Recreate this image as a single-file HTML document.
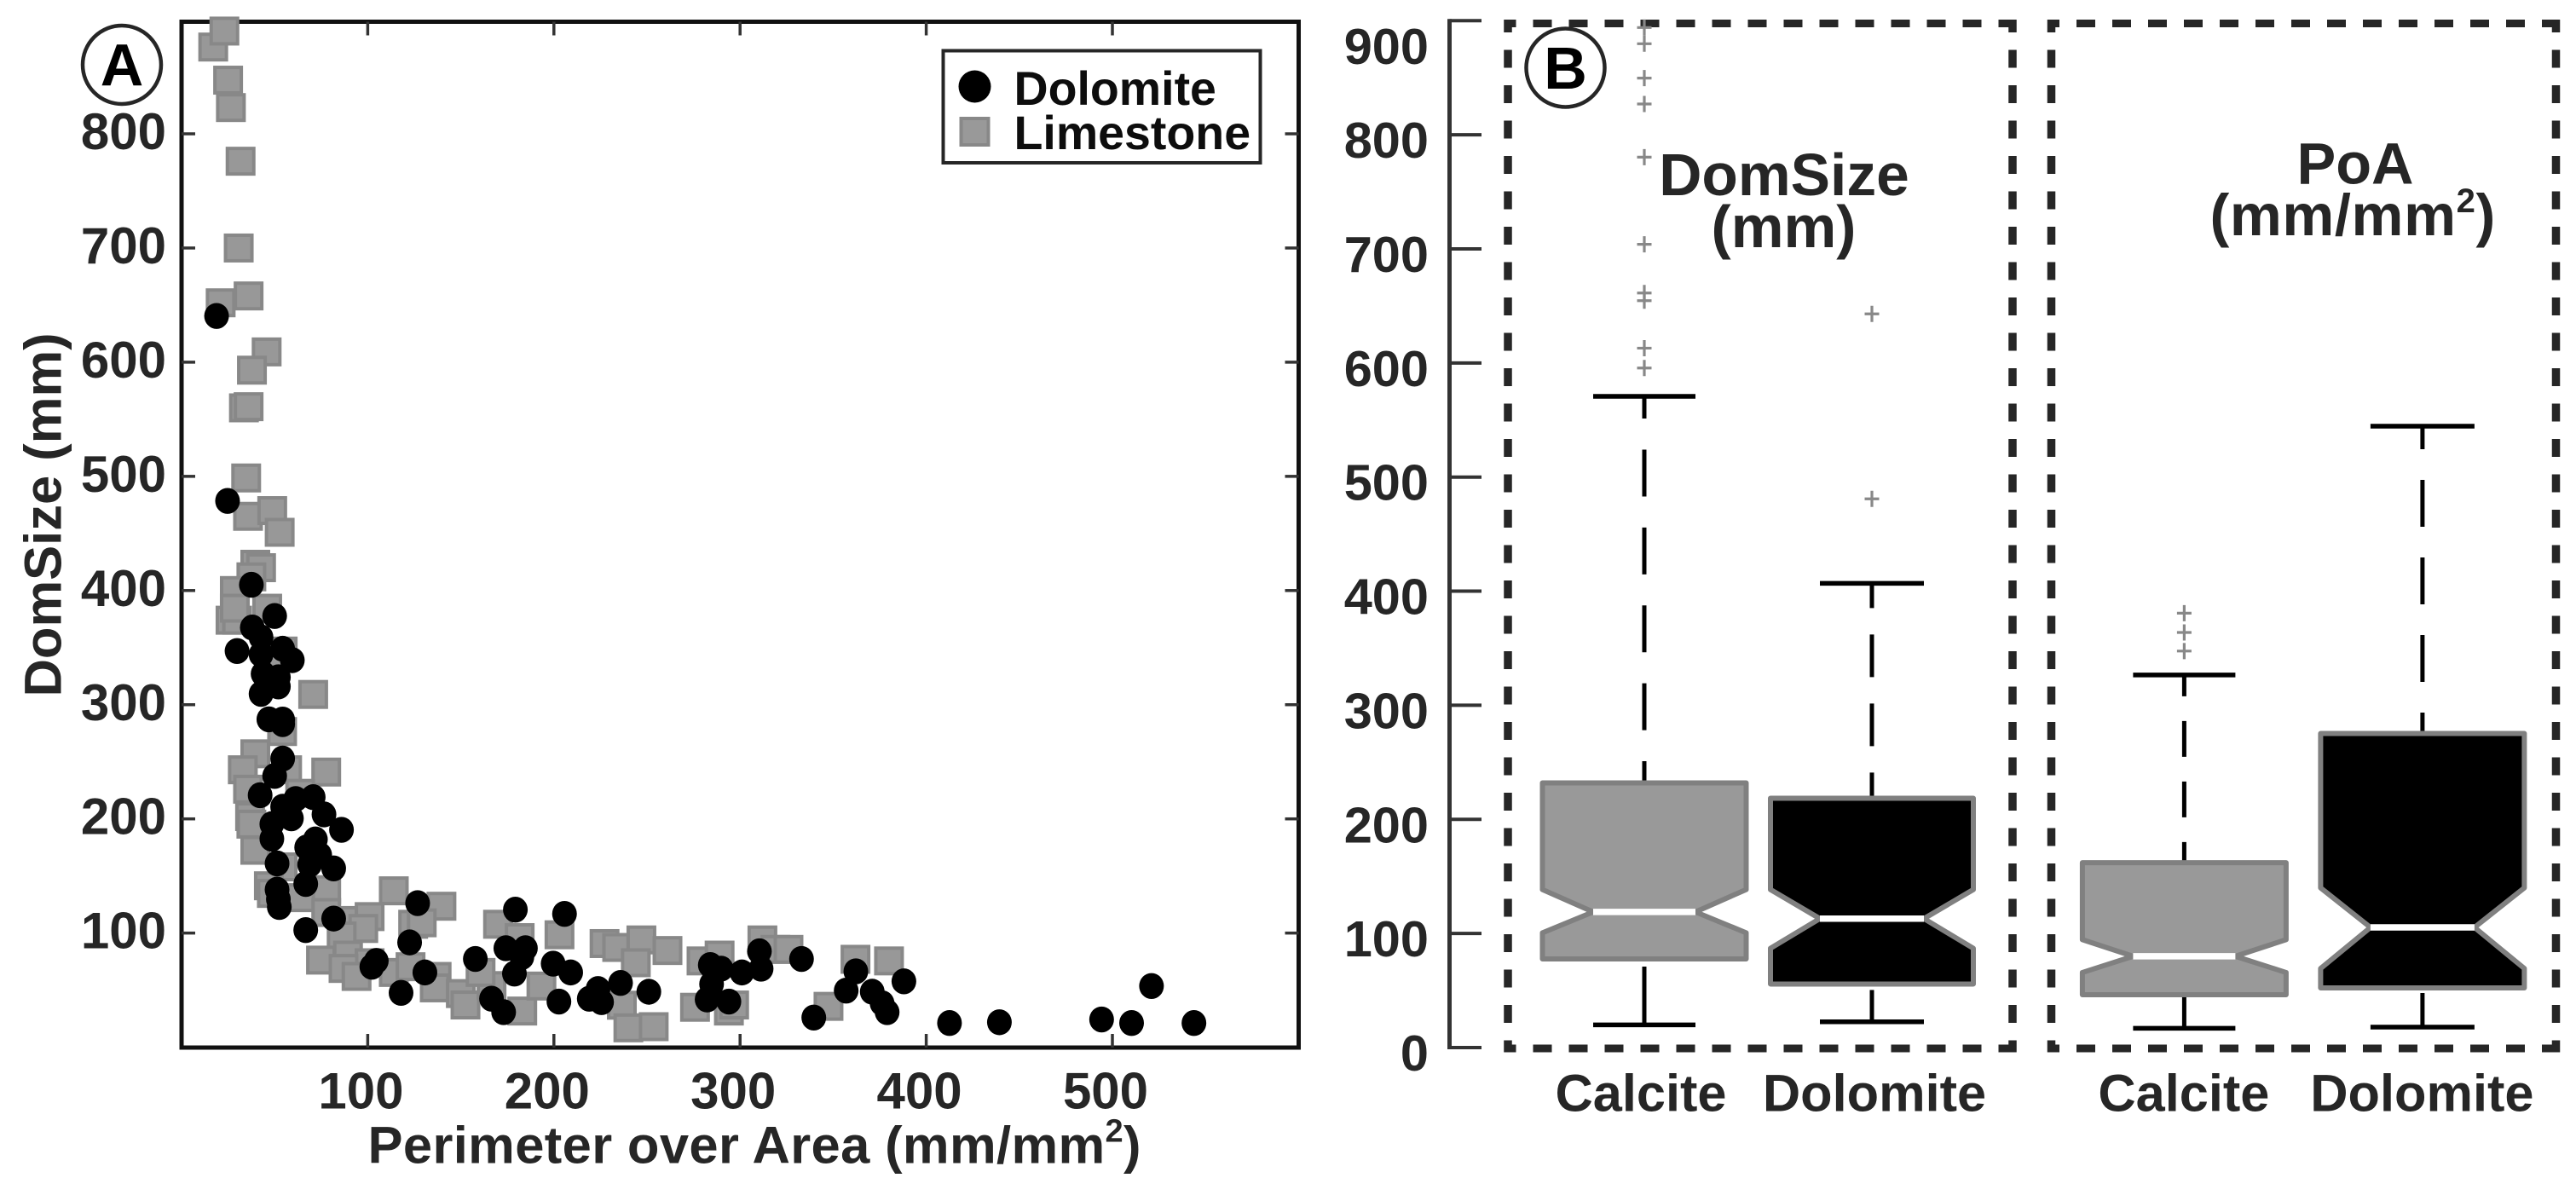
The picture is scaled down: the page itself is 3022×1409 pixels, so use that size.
<!DOCTYPE html>
<html lang="en">
<head>
<meta charset="utf-8">
<title>DomSize and Perimeter over Area charts</title>
<style>
html,body{margin:0;padding:0;background:#fff;width:3022px;height:1409px;overflow:hidden}
svg{display:block}
text{font-family:"Liberation Sans",Arial,sans-serif;font-weight:bold;fill:#262626}
</style>
</head>
<body>
<svg id="figure" xmlns="http://www.w3.org/2000/svg" width="3022" height="1409" viewBox="0 0 3022 1409">
  <rect x="0" y="0" width="3022" height="1409" fill="#fff"/>
  <g id="panelA"></g>
  <g id="panelB"></g>

  <g>
    <ellipse cx="143" cy="76" rx="46" ry="46" fill="none" stroke="#262626" stroke-width="4.5"/>
    <text x="143" y="100.5" font-size="70" text-anchor="middle" style="fill:#000">A</text>
  </g>
  <text transform="translate(71.5 817.5) rotate(-90)" font-size="61.5">DomSize (mm)</text>
  <text x="431.5" y="1364.5" font-size="61.5" letter-spacing="0.36">Perimeter over Area (mm/mm<tspan font-size="38" dy="-25">2</tspan><tspan dy="25">)</tspan></text>

  <g>
    <rect x="1106.5" y="59.5" width="372" height="131.5" fill="#fff" stroke="#262626" stroke-width="4"/>
    <circle cx="1143.5" cy="101.5" r="19" fill="#000"/>
    <text x="1189.5" y="122.8" font-size="55.5" style="fill:#0d0d0d">Dolomite</text>
    <rect x="1127.5" y="139" width="32" height="31" fill="#999" stroke="#888" stroke-width="4"/>
    <text x="1189.5" y="175" font-size="55.5" style="fill:#0d0d0d">Limestone</text>
  </g>

  <g>
    <ellipse cx="1836.5" cy="79.5" rx="46" ry="46" fill="none" stroke="#262626" stroke-width="4.5"/>
    <text x="1836.5" y="104" font-size="70" text-anchor="middle" style="fill:#000">B</text>
  </g>
  <text x="2093" y="229" font-size="69.5" text-anchor="middle">DomSize</text>
  <text x="2092.5" y="290" font-size="69.5" text-anchor="middle">(mm)</text>
  <text x="2763" y="215.5" font-size="68.5" text-anchor="middle">PoA</text>
  <text x="2592.5" y="276" font-size="68.5" letter-spacing="0.6">(mm/mm<tspan font-size="40" dy="-27">2</tspan><tspan dy="27">)</tspan></text>
</svg>
<script>
// ---- Panel A data ----
const dolomiteX = [18.8,24.7,37.5,50,38,42.7,29.8,42.7,54.3,59.5,43.8,52,42.7,52,46.9,54.3,54.3,54.3,50,42.2,61.3,70.7,54.3,59,76.5,48.5,48.5,85.9,71.9,67.2,74.2,68.8,81.7,51.3,66.7,51.3,52,52.5,81.7,66.7,104.6,102.2,126.8,122.5,130.7,117.9,157.8,174.2,184.7,182.8,179.3,178.8,166.5,173,205.7,199.6,209,202.7,219,223.7,225.6,235.8,251,284,289.8,284.7,282.3,294,301,310.4,311.3,333,362.2,357,371,376.3,379,339.6,388,412.5,439.3,494.2,510.3,521,543.8];
const dolomiteY = [640.5,478.5,405,377.7,367.6,359,347,344,349,339,327,324,309.5,316,287.2,287,283,252.8,237.6,220.7,217.4,219,210.6,200.5,203.9,195.4,182.6,190.4,182,175,168.4,160,156.6,161,143,138,129.6,122.8,112.7,102.6,75.6,70.5,126.2,91.8,65.5,47.6,77.3,86.7,86.7,79,120.5,64.5,42.5,30.7,116.8,73.2,65.5,40,42.5,51,39.5,56.3,48.6,72,68.8,55.3,41.8,40,65.5,84,68.8,77.3,66.5,49.6,48.6,38.5,30.7,26,57.7,21.2,21.9,24.3,21.2,53.6,21.2];
const limestoneX = [17,23,25,26.5,31.7,30.7,21,36,45.7,37.8,33.5,36,34.7,35.7,48.7,52.7,39.6,42.7,37.5,28.6,26.3,29.8,46,28.6,54.3,49.7,70.7,54,39.6,32.9,56.7,77.7,35.7,63.7,36.8,37.5,39.6,54.3,46.9,48.5,77.7,63.7,114,139.6,77.7,87,101,97.6,124.4,129,86,74.9,89.4,101,114,87,94,123,137,136,150,152.5,166.5,160.6,170,181.6,203,183,193.3,227.2,234,247,261,244,236.5,240,253.6,275.8,279.3,289,294,296.8,312,319,326,362,380,347.5];
const limestoneY = [876,890,847,823,776,700,652,658,609,593,560,561,498.6,465,470,451,423,420,412,400,374,374,384.5,384.5,347,337,309,276.5,257,243,243,241,226,222.4,202,195.4,172.5,158,141.4,134.7,138,131,137,123.5,118,111,114.4,104,107.7,109,97.5,76.3,80.7,74,65.5,69,62,70.5,62,52,47,37,54,65.5,107.7,96,98.5,31.7,53.6,90.8,87.4,94,84.7,74,36.8,17,18,35,75.6,80.7,31.7,37,94,85.7,85.7,77,75.6,35.8];
const scatterXTicks = [100,200,300,400,500];
const scatterYTicks = [100,200,300,400,500,600,700,800];

// ---- Panel B data ----
const boxAxisTicks = [0,100,200,300,400,500,600,700,800,900];
const boxCategories = ["Calcite","Dolomite"];
const domSizeQ1 = [77.7,55.7];
const domSizeQ3 = [232,218.5];
const domSizeMedian = [118.9,113];
const domSizeNotchLow = [100.6,87];
const domSizeNotchHigh = [138.5,138.5];
const domSizeWhiskerLow = [19.9,22.6];
const domSizeWhiskerHigh = [570.7,406.9];
const domSizeOutliers = [[894,879.8,849.7,827,780.4,704,661.3,654.6,613,595.6],[643,480.9]];
const poaQ1 = [46.3,52.3];
const poaQ3 = [162,275.3];
const poaMedian = [80,105.3];
const poaNotchLow = [65.8,69.3];
const poaNotchHigh = [94.6,140];
const poaWhiskerLow = [16.9,17.9];
const poaWhiskerHigh = [326.6,544.6];
const poaOutliers = [[380.7,363.8,347.5],[]];

const NS = 'http://www.w3.org/2000/svg';
function make(parent, tag, attrs, text) {
  const node = document.createElementNS(NS, tag);
  for (const key in attrs) node.setAttribute(key, attrs[key]);
  if (text !== undefined) node.textContent = text;
  parent.appendChild(node);
  return node;
}

// ---- Panel A axes ----
const scatterX = v => 213 + 2.184 * v;
const scatterY = v => 1228.6 - 1.3395 * v;
const panelA = document.getElementById('panelA');
const frameLeft = 213, frameRight = 1523.5, frameTop = 25.5, frameBottom = 1229;

const frame = make(panelA, 'rect', {x: frameLeft, y: frameTop, width: frameRight - frameLeft, height: frameBottom - frameTop, fill: 'none', stroke: '#111', 'stroke-width': 5});



scatterXTicks.forEach(v => {
  const bottomTick = make(panelA, 'line', {x1: scatterX(v), x2: scatterX(v), y1: frameBottom, y2: frameBottom - 16, stroke: '#333', 'stroke-width': 3.5});
  
  
  const topTick = make(panelA, 'line', {x1: scatterX(v), x2: scatterX(v), y1: frameTop, y2: frameTop + 16, stroke: '#333', 'stroke-width': 3.5});
  
  
  const label = make(panelA, 'text', {x: scatterX(v) - 8, y: 1300.5, 'font-size': 60, 'text-anchor': 'middle'}, String(v));
  
  
});
scatterYTicks.forEach(v => {
  const leftTick = make(panelA, 'line', {x1: frameLeft, x2: frameLeft + 16, y1: scatterY(v), y2: scatterY(v), stroke: '#333', 'stroke-width': 3.5});
  
  
  const rightTick = make(panelA, 'line', {x1: frameRight, x2: frameRight - 16, y1: scatterY(v), y2: scatterY(v), stroke: '#333', 'stroke-width': 3.5});
  
  
  const label = make(panelA, 'text', {x: 195, y: scatterY(v) + 18, 'font-size': 60, 'text-anchor': 'end'}, String(v));
  
  
});

// ---- Panel A points ----
limestoneX.forEach((v, i) => {
  const markW = 31, markH = 30;
  const pt = make(panelA, 'rect', {x: scatterX(v) - markW / 2, y: scatterY(limestoneY[i]) - markH / 2, width: markW, height: markH, fill: '#989898', stroke: '#888', 'stroke-width': 4});
  
  
});
dolomiteX.forEach((v, i) => {
  const pt = make(panelA, 'ellipse', {cx: scatterX(v), cy: scatterY(dolomiteY[i]), rx: 14.5, ry: 15.2, fill: '#000'});
  
  
});

// ---- Panel B axis ----
const boxY = v => 1229 - 1.3386 * v;
const panelB = document.getElementById('panelB');
const axisLine = make(panelB, 'line', {x1: 1700.5, x2: 1700.5, y1: boxY(900) - 2, y2: boxY(0) + 2, stroke: '#333', 'stroke-width': 5});


boxAxisTicks.forEach(v => {
  const tick = make(panelB, 'line', {x1: 1700.5, x2: 1738, y1: boxY(v), y2: boxY(v), stroke: '#333', 'stroke-width': 4});
  
  
  const label = make(panelB, 'text', {x: 1676, y: Math.max(75, boxY(v) + 27), 'font-size': 59.5, 'text-anchor': 'end'}, String(v));
  
  
});

// ---- Dashed panel frames ----
function dashedFrame(left, right, top, bottom, name) {
  const half = 4.5;
  [top, bottom].forEach(y => {
    const edge = make(panelB, 'line', {x1: left - half, x2: right + half, y1: y, y2: y, stroke: '#262626', 'stroke-width': 9, 'stroke-dasharray': '22 20', 'stroke-dashoffset': 8});
    
    
  });
  [left, right].forEach(x => {
    const edge = make(panelB, 'line', {x1: x, x2: x, y1: top - half, y2: bottom + half, stroke: '#262626', 'stroke-width': 9.5, 'stroke-dasharray': '21 20.5', 'stroke-dashoffset': 6});
    
    
  });
}
dashedFrame(1769, 2361, 27.5, 1230, 'domsize-frame');
dashedFrame(2406.5, 2998.5, 27.5, 1230, 'poa-frame');

// ---- Boxplots ----
function drawBox(cx, halfW, notchW, i, s, fill, name, dash, dashOffset, gap) {
  const yQ1 = boxY(s.q1[i]), yQ3 = boxY(s.q3[i]), yMed = boxY(s.median[i]);
  const yLo = boxY(s.notchLow[i]), yHi = boxY(s.notchHigh[i]);
  const yWL = boxY(s.whiskerLow[i]), yWH = boxY(s.whiskerHigh[i]);

  const upper = make(panelB, 'line', {x1: cx, x2: cx, y1: yWH, y2: yQ3, stroke: '#000', 'stroke-width': 5, 'stroke-dasharray': dash, 'stroke-dashoffset': dashOffset});
  
  

  const lower = make(panelB, 'line', {x1: cx, x2: cx, y1: yWL, y2: yQ1 + gap, stroke: '#000', 'stroke-width': 5});
  
  

  const capHigh = make(panelB, 'line', {x1: cx - notchW, x2: cx + notchW, y1: yWH, y2: yWH, stroke: '#000', 'stroke-width': 5.5});
  
  
  const capLow = make(panelB, 'line', {x1: cx - notchW, x2: cx + notchW, y1: yWL, y2: yWL, stroke: '#000', 'stroke-width': 5.5});
  
  

  const d = 'M' + (cx - halfW) + ' ' + yQ3 + 'L' + (cx + halfW) + ' ' + yQ3 + 'L' + (cx + halfW) + ' ' + yHi +
    'L' + (cx + notchW) + ' ' + yMed + 'L' + (cx + halfW) + ' ' + yLo + 'L' + (cx + halfW) + ' ' + yQ1 +
    'L' + (cx - halfW) + ' ' + yQ1 + 'L' + (cx - halfW) + ' ' + yLo + 'L' + (cx - notchW) + ' ' + yMed +
    'L' + (cx - halfW) + ' ' + yHi + 'Z';
  const box = make(panelB, 'path', {d: d, fill: fill, stroke: '#808080', 'stroke-width': 6, 'stroke-linejoin': 'round'});
  
  

  const median = make(panelB, 'line', {x1: cx - notchW, x2: cx + notchW, y1: yMed, y2: yMed, stroke: '#fff', 'stroke-width': 7.5});
  
  

  s.outliers[i].forEach(v => {
    const y = boxY(v);
    const mark = make(panelB, 'path', {d: 'M' + (cx - 8.5) + ' ' + y + 'H' + (cx + 8.5) + 'M' + cx + ' ' + (y - 9.5) + 'V' + (y + 9.5), fill: 'none', stroke: '#888', 'stroke-width': 3.2});
    
    
  });
}

const domSizeSeries = {q1: domSizeQ1, q3: domSizeQ3, median: domSizeMedian, notchLow: domSizeNotchLow, notchHigh: domSizeNotchHigh, whiskerLow: domSizeWhiskerLow, whiskerHigh: domSizeWhiskerHigh, outliers: domSizeOutliers};
const poaSeries = {q1: poaQ1, q3: poaQ3, median: poaMedian, notchLow: poaNotchLow, notchHigh: poaNotchHigh, whiskerLow: poaWhiskerLow, whiskerHigh: poaWhiskerHigh, outliers: poaOutliers};
const domSizeCenter = i => 1929 + 267 * i;
const poaCenter = i => 2562.4 + 279.5 * i;

drawBox(domSizeCenter(0), 119.5, 60, 0, domSizeSeries, '#999', 'domsize-calcite', '55 36.4', 29, 9);
drawBox(domSizeCenter(1), 119, 61, 1, domSizeSeries, '#000', 'domsize-dolomite', '50 31', 21, 7);
drawBox(poaCenter(0), 119.5, 60, 0, poaSeries, '#999', 'poa-calcite', '42 29', 17, 1);
drawBox(poaCenter(1), 119.5, 61, 1, poaSeries, '#000', 'poa-dolomite', '55 36', 28, 6);

boxCategories.forEach((name, i) => {
  const a = make(panelB, 'text', {x: domSizeCenter(i) - (i ? -3 : 4), y: 1303.5, 'font-size': 61.3, 'text-anchor': 'middle'}, name);
  
  
  const b = make(panelB, 'text', {x: poaCenter(i) - 0.5, y: 1303.5, 'font-size': 61.3, 'text-anchor': 'middle'}, name);
  
  
});
</script>
</body>
</html>
